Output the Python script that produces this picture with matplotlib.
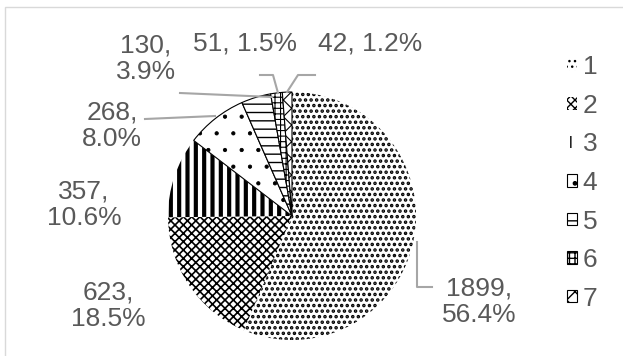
import matplotlib
matplotlib.use("Agg")
import matplotlib.pyplot as plt
from matplotlib.patches import Rectangle
from matplotlib.lines import Line2D

# ---- data ----
categories = ["1", "2", "3", "4", "5", "6", "7"]
values = [1899, 623, 357, 268, 130, 51, 42]
percent_labels = ["56.4%", "18.5%", "10.6%", "8.0%", "3.9%", "1.5%", "1.2%"]

# ---- style ----
hatches = ["...", "xxxx", "||", ".", "--", "+++", "xx"]
hatch_lw = [1.7, 1.2, 3.0, 0.6, 1.0, 0.8, 0.8]
edge_lw = [0, 0, 0, 0.8, 0.8, 0.8, 0.8]
TXT = "#595959"
LEAD = "#a6a6a6"
FS = 19

plt.rcParams['font.family'] = ['Liberation Sans', 'DejaVu Sans']

W, H = 623, 356
fig = plt.figure(figsize=(W / 100, H / 100), dpi=100)
ax = fig.add_axes([0, 0, 1, 1])

def Y(y):
    return H - y

wedges, _ = ax.pie(values, startangle=90, counterclock=False,
                   center=(292, Y(216)), radius=124,
                   colors=["white"] * len(values),
                   wedgeprops=dict(edgecolor="black"))
for w, h, hl, el in zip(wedges, hatches, hatch_lw, edge_lw):
    w.set_hatch(h)
    w.set_linewidth(el)
    if hasattr(w, "set_hatch_linewidth"):
        w.set_hatch_linewidth(hl)

ax.set_xlim(0, W)
ax.set_ylim(0, H)
ax.set_aspect("equal")
ax.axis("off")

# outer chart border (top / left visible)
ax.add_patch(Rectangle((5, Y(360)), 700, 353, fill=False, edgecolor="#d9d9d9", lw=1.0))

# label layout: (x, y) in pixel coords
label_pos = [
    (479, 302),   # 1
    (108, 306),   # 2
    (84, 205),    # 3
    (112, 126),   # 4
    (146, 59),    # 5
    (245, 43),    # 6
    (370, 43),    # 7
]
for i, (x, y) in enumerate(label_pos):
    if i in (5, 6):
        txt = f"{values[i]}, {percent_labels[i]}"
    else:
        txt = f"{values[i]},\n{percent_labels[i]}"
    ax.text(x, Y(y), txt, ha="center", va="center", fontsize=FS,
            color=TXT, linespacing=1.12)

# leader lines (pixel coords)
leaders = [
    [(432, 287), (417, 287), (417, 242)],
    [(145, 119), (215, 116)],
    [(180, 93), (272, 97)],
    [(260, 75), (273, 75), (278, 93)],
    [(315, 75), (298, 75), (287, 92)],
]
for pts in leaders:
    xs = [p[0] for p in pts]
    ys = [Y(p[1]) for p in pts]
    ax.add_line(Line2D(xs, ys, color=LEAD, lw=1.5))

leg = ax.legend(wedges, categories, loc="center left",
                bbox_to_anchor=(567, Y(183)), bbox_transform=ax.transData,
                frameon=False, fontsize=FS, handlelength=0.37, handleheight=0.37,
                handletextpad=0.22, labelspacing=0.55, borderpad=0, borderaxespad=0,
                labelcolor=TXT)

fig.savefig("out.png", dpi=100)
